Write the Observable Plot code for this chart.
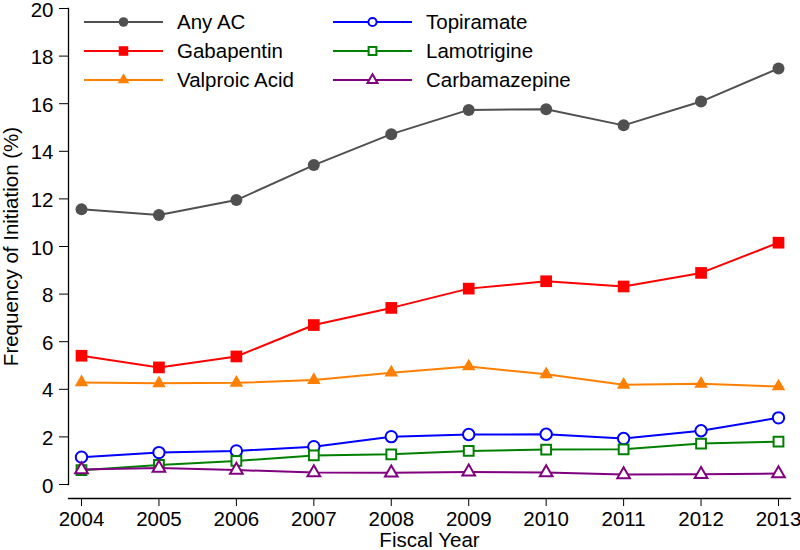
<!DOCTYPE html>
<html><head><meta charset="utf-8">
<script src="https://cdn.jsdelivr.net/npm/d3@7"></script>
<script src="https://cdn.jsdelivr.net/npm/@observablehq/plot@0.6"></script>
<style>
html,body{margin:0;padding:0;background:#fff;}
#wrap{position:relative;width:800px;height:550px;font-family:"Liberation Sans",Arial,Helvetica,sans-serif;}
#legend{position:absolute;left:0;top:0;pointer-events:none;}
</style></head><body><div id="wrap"></div>
<script>
// ---- data ----
const years = [2004, 2005, 2006, 2007, 2008, 2009, 2010, 2011, 2012, 2013];
const anyAC = [11.56, 11.32, 11.95, 13.42, 14.72, 15.74, 15.77, 15.09, 16.09, 17.48];
const gabapentin = [5.41, 4.92, 5.38, 6.70, 7.42, 8.23, 8.54, 8.32, 8.89, 10.16];
const valproicAcid = [4.29, 4.25, 4.27, 4.39, 4.70, 4.96, 4.63, 4.19, 4.23, 4.12];
const topiramate = [1.15, 1.34, 1.41, 1.59, 2.01, 2.10, 2.11, 1.93, 2.26, 2.80];
const lamotrigine = [0.60, 0.82, 0.99, 1.22, 1.27, 1.41, 1.47, 1.48, 1.72, 1.80];
const carbamazepine = [0.63, 0.69, 0.61, 0.50, 0.49, 0.53, 0.50, 0.42, 0.43, 0.46];
const yTicks = [0, 2, 4, 6, 8, 10, 12, 14, 16, 18, 20];
const seriesNames = ["Any AC", "Gabapentin", "Valproic Acid", "Topiramate", "Lamotrigine", "Carbamazepine"];
const seriesValues = [anyAC, gabapentin, valproicAcid, topiramate, lamotrigine, carbamazepine];
const xLabel = "Fiscal Year";
const yLabel = "Frequency of Initiation (%)";

// ---- styles ----
const FONT = '"Liberation Sans", Arial, Helvetica, sans-serif';
const FS = 20.5;
const styles = [
  {color: "#505050", symbol: "circle",   filled: true,  r: 6.0, lr: 4.8},
  {color: "#ff0000", symbol: "square",   filled: true,  r: 6.6, lr: 5.4},
  {color: "#ff7f00", symbol: "triangle", filled: true,  r: 5.0, lr: 4.3},
  {color: "#0000ff", symbol: "circle",   filled: false, r: 5.7, lr: 4.1},
  {color: "#008000", symbol: "square",   filled: false, r: 5.5, lr: 4.4},
  {color: "#800080", symbol: "triangle", filled: false, r: 4.7, lr: 3.7}
];

const series = seriesNames.map((name, i) => ({
  name, ...styles[i],
  data: years.map((year, j) => ({year, value: seriesValues[i][j]}))
}));

const marks = [];
for (const s of series) {
  marks.push(Plot.line(s.data, {x: "year", y: "value", stroke: s.color, strokeWidth: 2}));
  marks.push(Plot.dot(s.data, {
    x: "year", y: "value", symbol: s.symbol, r: s.r,
    fill: s.filled ? s.color : "white",
    stroke: s.color, strokeWidth: s.filled ? 0 : 2
  }));
}

const chart = Plot.plot({
  width: 800, height: 550,
  marginLeft: 68, marginRight: 10, marginTop: 8, marginBottom: 52,
  style: {fontFamily: FONT, fontSize: FS + "px", color: "#000", background: "#fff"},
  x: {domain: [2004, 2013], insetLeft: 13, insetRight: 12},
  y: {domain: [0, 20], insetBottom: 14},
  marks: [
    Plot.frame({anchor: "left", insetBottom: 14, stroke: "#000", strokeWidth: 1.3}),
    Plot.frame({anchor: "bottom", stroke: "#000", strokeWidth: 1.3}),
    Plot.axisY({ticks: yTicks, tickSize: 9, tickFormat: () => "", label: null}),
    Plot.axisY({ticks: yTicks, tickSize: 0, tickPadding: 15, dy: 1.5, tickFormat: d => String(d), label: null}),
    Plot.text([yLabel], {frameAnchor: "left", text: d => d, rotate: -90, dx: -57, dy: -7,
      textAnchor: "middle", lineAnchor: "middle", fontSize: FS, fill: "#000"}),
    Plot.axisX({ticks: years, tickSize: 8, tickPadding: 5, tickFormat: d => String(d),
      label: xLabel, labelAnchor: "center", labelArrow: "none", labelOffset: 48}),
    ...marks
  ]
});
document.getElementById("wrap").appendChild(chart);

// ---- legend overlay ----
const legendCols = [{lineX0: 84, lineX1: 163, textX: 177}, {lineX0: 333, lineX1: 412, textX: 426}];
const rowY = [22, 51, 80];
const svg = d3.select("#wrap").append("svg").attr("id", "legend").attr("width", 800).attr("height", 120);
const symMap = {circle: d3.symbolCircle, square: d3.symbolSquare, triangle: d3.symbolTriangle};
series.forEach((s, i) => {
  const col = legendCols[Math.floor(i / 3)], y = rowY[i % 3];
  const mx = (col.lineX0 + col.lineX1) / 2;
  const g = svg.append("g");
  g.append("line").attr("x1", col.lineX0).attr("x2", col.lineX1).attr("y1", y).attr("y2", y)
    .attr("stroke", s.color).attr("stroke-width", 2);
  g.append("path").attr("transform", `translate(${mx},${y})`)
    .attr("d", d3.symbol(symMap[s.symbol], s.lr * s.lr * Math.PI)())
    .attr("fill", s.filled ? s.color : "white").attr("stroke", s.color).attr("stroke-width", s.filled ? 0 : 2);
  g.append("text").attr("x", col.textX).attr("y", y).attr("dy", "0.35em")
    .attr("font-size", FS).attr("font-family", FONT).attr("fill", "#000")
    .text(s.name);
});
</script></body></html>
